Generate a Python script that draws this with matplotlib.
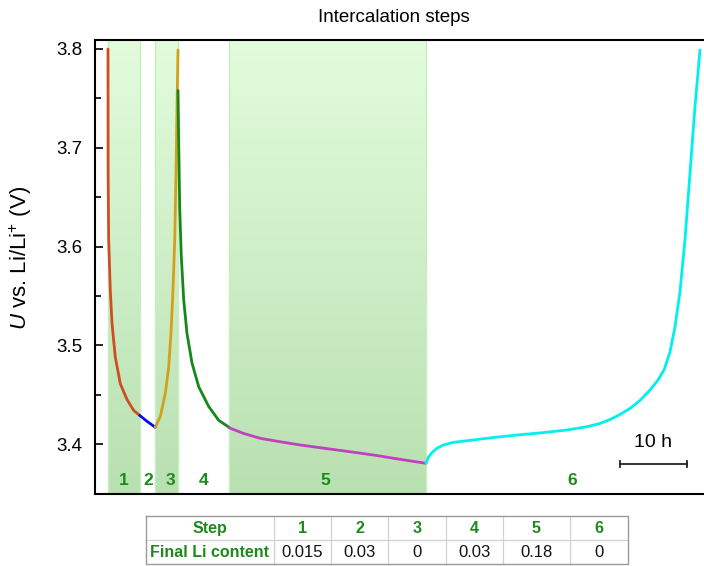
import numpy as np
import matplotlib
matplotlib.use("Agg")
import matplotlib.pyplot as plt
from matplotlib.colors import LinearSegmentedColormap

plt.rcParams['font.family'] = ['Liberation Sans', 'DejaVu Sans']
plt.rcParams['mathtext.fontset'] = 'custom'
plt.rcParams['mathtext.it'] = 'Liberation Sans:italic'
plt.rcParams['mathtext.rm'] = 'Liberation Sans'

# ---- data (time in hours, voltage in V) ----
t1 = [0, 0.02, 0.10, 0.34, 0.60, 1.09, 1.84, 2.84, 3.84, 4.73]
v1 = [3.800, 3.674, 3.607, 3.556, 3.522, 3.488, 3.461, 3.445, 3.434, 3.429]
t2 = [4.73, 5.82, 7.06]
v2 = [3.429, 3.423, 3.417]
t3 = [7.06, 7.81, 8.55, 9.06, 9.40, 9.70, 9.96, 10.15, 10.30, 10.45]
v3 = [3.417, 3.428, 3.451, 3.478, 3.512, 3.556, 3.607, 3.674, 3.742, 3.799]
t4 = [10.45, 10.55, 10.70, 10.94, 11.30, 11.79, 12.54, 13.54, 15.03, 16.52, 18.06]
v4 = [3.758, 3.708, 3.640, 3.590, 3.546, 3.512, 3.482, 3.458, 3.438, 3.424, 3.417]
t5 = [18.06, 20.2, 22.7, 25.7, 28.7, 32.4, 36.1, 39.9, 43.6, 47.46]
v5 = [3.4165, 3.4108, 3.4058, 3.4023, 3.399, 3.3956, 3.3922, 3.3886, 3.3845, 3.3805]
t6 = [47.46, 47.81, 48.31, 49.06, 50.04, 51.54, 53.54, 57.27, 61.0, 64.73,
      68.46, 71.45, 73.43, 74.93, 76.42, 77.91, 79.40, 80.90, 82.09, 82.99,
      83.88, 84.63, 85.37, 86.12, 86.87, 87.61, 88.36]
v6 = [3.3805, 3.3865, 3.391, 3.3956, 3.399, 3.4017, 3.4033, 3.4064, 3.4091,
      3.4114, 3.4142, 3.4175, 3.4208, 3.4248, 3.4299, 3.436, 3.4441, 3.4547,
      3.4648, 3.4749, 3.4932, 3.5185, 3.5539, 3.6066, 3.6744, 3.7413, 3.799]

step_edges = [0, 4.78, 7.01, 10.45, 18.06, 47.46, 88.96]
shaded_steps = [0, 2, 4]  # indices of steps 1, 3, 5
step_labels = ['1', '2', '3', '4', '5', '6']
step_label_x = [2.39, 5.97, 9.25, 14.2, 32.5, 69.3]

table_header = ['Step', '1', '2', '3', '4', '5', '6']
table_values = ['Final Li content', '0.015', '0.03', '0', '0.03', '0.18', '0']

curves = [(t1, v1, '#cf4d1f'), (t2, v2, '#0a0af0'), (t3, v3, '#d3a01a'),
          (t4, v4, '#16881a'), (t5, v5, '#c23fbf'), (t6, v6, '#00f0f0')]

W, H = 704, 566
fig = plt.figure(figsize=(W / 100, H / 100), dpi=100)
ax = fig.add_axes([95 / W, 1 - 494 / H, (W - 95) / W, (494 - 40) / H])

xmin, xmax = -1.94, 88.96
ymin, ymax = 3.3494, 3.8091
ax.set_xlim(xmin, xmax)
ax.set_ylim(ymin, ymax)

# gradient bands
cmap = LinearSegmentedColormap.from_list('g', ['#b9e0b1', '#e2fcdc'])
grad = np.linspace(0, 1, 256).reshape(-1, 1)
for i in shaded_steps:
    x0, x1 = step_edges[i], step_edges[i + 1]
    ax.imshow(grad, cmap=cmap, aspect='auto', origin='lower',
              extent=[x0, x1, ymin, ymax], zorder=0, interpolation='bilinear')
    for xe in (x0, x1):
        ax.axvline(xe, color='#c6efbe', lw=1.0, zorder=0.5)

for t, v, c in curves:
    ax.plot(t, v, color=c, lw=2.0, solid_capstyle='round',
            solid_joinstyle='round', zorder=3)

for lab, x in zip(step_labels, step_label_x):
    ax.text(x, 3.3635, lab, color='#1c8a1c', fontsize=12.5, fontweight='bold',
            ha='center', va='center', zorder=4)

# scale bar
sb0 = 76.4
sbw = 10
ybar = 3.3797
ax.plot([sb0, sb0 + sbw], [ybar, ybar], color='#222222', lw=1.3, zorder=4)
for xx in (sb0, sb0 + sbw):
    ax.plot([xx, xx], [ybar - 0.003, ybar + 0.003], color='#222222', lw=1.3, zorder=4)
ax.text(sb0 + sbw / 2, 3.4015, '10 h', fontsize=14, ha='center', va='center')

ax.set_xticks([])
ax.set_yticks([3.4, 3.5, 3.6, 3.7, 3.8])
ax.set_yticklabels(['3.4', '3.5', '3.6', '3.7', '3.8'])
ax.set_yticks(np.arange(3.45, 3.81, 0.1), minor=True)
ax.tick_params(axis='y', which='major', direction='in', length=6, width=1.2,
               labelsize=13.5, pad=9)
ax.tick_params(axis='y', which='minor', direction='in', length=4, width=1.2)
for s in ('left', 'bottom', 'top'):
    ax.spines[s].set_linewidth(1.5)
ax.spines['right'].set_visible(False)

ax.set_ylabel(r'$U$ vs. Li/Li$^{+}$ (V)', fontsize=16)
ax.yaxis.set_label_coords(-0.1, 0.52)

fig.text(394 / W, 1 - 18 / H, 'Intercalation steps', fontsize=13.5,
         ha='center', va='center')

# table
col_edges = [146, 274, 331, 388, 446, 503, 570, 628]
ytop, ymid, ybot = 516, 540, 564
tax = fig.add_axes([0, 0, 1, 1], facecolor='none')
tax.set_xlim(0, W)
tax.set_ylim(H, 0)
tax.axis('off')
for xe in col_edges[1:-1]:
    tax.plot([xe, xe], [ytop, ybot], color='#d2d2d2', lw=0.9)
tax.plot([col_edges[0], col_edges[-1]], [ymid, ymid], color='#d2d2d2', lw=0.9)
tax.plot([col_edges[0], col_edges[-1], col_edges[-1], col_edges[0], col_edges[0]],
         [ytop, ytop, ybot, ybot, ytop], color='#9a9a9a', lw=1.0)
for i in range(7):
    xc = (col_edges[i] + col_edges[i + 1]) / 2
    tax.text(xc, (ytop + ymid) / 2 + 0.5, table_header[i], color='#1c8a1c',
             fontsize=11.5, fontweight='bold', ha='center', va='center')
    if i == 0:
        tax.text(xc, (ymid + ybot) / 2 + 0.5, table_values[i], color='#1c8a1c',
                 fontsize=11.5, fontweight='bold', ha='center', va='center')
    else:
        tax.text(xc, (ymid + ybot) / 2 + 0.5, table_values[i], color='#111111',
                 fontsize=12, ha='center', va='center')

fig.savefig('out.png', dpi=100)
